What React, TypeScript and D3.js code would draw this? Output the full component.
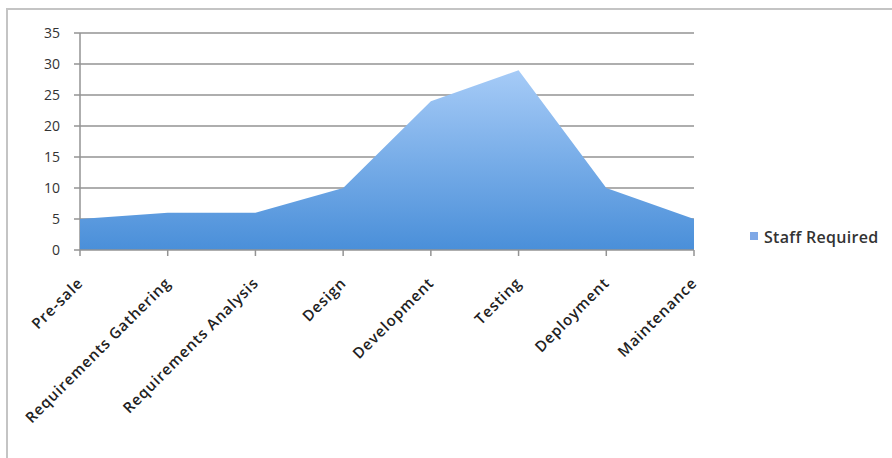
import React from "react";
import * as d3 from "d3";

const categories = [
  "Pre-sale",
  "Requirements Gathering",
  "Requirements Analysis",
  "Design",
  "Development",
  "Testing",
  "Deployment",
  "Maintenance",
];
const staffRequired = [5, 6, 6, 10, 24, 29, 10, 5];
const yTicks = [0, 5, 10, 15, 20, 25, 30, 35];
const seriesName = "Staff Required";

const W = 892;
const H = 458;
const M = { left: 80, right: 198, top: 33, bottom: 208 };

export default function App() {
  const x = d3
    .scalePoint<string>()
    .domain(categories)
    .range([M.left, W - M.right])
    .padding(0);
  const y = d3.scaleLinear().domain([0, 35]).range([H - M.bottom, M.top]);

  const data = categories.map((c, i) => ({ c, v: staffRequired[i] }));
  const area = d3
    .area<{ c: string; v: number }>()
    .x((d) => x(d.c)!)
    .y0(y(0))
    .y1((d) => y(d.v));

  const font = "'Open Sans', 'Liberation Sans', sans-serif";
  return (
    <svg
      width={W}
      height={H}
      style={{ position: "absolute", left: 0, top: 0, background: "#fff" }}
    >
      <defs>
        <linearGradient
          id="areaGrad"
          gradientUnits="userSpaceOnUse"
          x1={0}
          x2={0}
          y1={y(d3.max(staffRequired)!)}
          y2={y(0)}
        >
          <stop offset="0%" stopColor="#a6cbf7" />
          <stop offset="100%" stopColor="#4a8fd9" />
        </linearGradient>
      </defs>
      <rect
        x={7}
        y={9}
        width={W + 10}
        height={H + 10}
        fill="none"
        stroke="#c4c4c4"
        strokeWidth={2}
      />
      {yTicks.map((t) => (
        <g key={t}>
          <line
            x1={M.left - 6}
            x2={t === 0 ? M.left : W - M.right}
            y1={y(t)}
            y2={y(t)}
            stroke="#939393"
            strokeWidth={1.5}
          />
          <text
            x={M.left - 20}
            y={y(t)}
            dy="0.35em"
            textAnchor="end"
            fontFamily={font}
            fontSize={14}
            fill="#333"
          >
            {t}
          </text>
        </g>
      ))}
      <line
        x1={M.left}
        x2={M.left}
        y1={y(35)}
        y2={y(0)}
        stroke="#939393"
        strokeWidth={1.5}
      />
      <path d={area(data)!} fill="url(#areaGrad)" />
      <line
        x1={M.left}
        x2={W - M.right}
        y1={y(0)}
        y2={y(0)}
        stroke="#939393"
        strokeWidth={1.5}
      />
      {categories.map((c) => (
        <g key={c}>
          <line
            x1={x(c)}
            x2={x(c)}
            y1={y(0)}
            y2={y(0) + 6}
            stroke="#939393"
            strokeWidth={1.5}
          />
          <text
            transform={`translate(${x(c)! + 4},${y(0) + 34}) rotate(-45)`}
            textAnchor="end"
            fontFamily={font}
            fontSize={15}
            fontWeight={600}
            letterSpacing={0.9}
            fill="#222"
          >
            {c}
          </text>
        </g>
      ))}
      <rect x={750} y={232} width={8} height={8} fill="#7fa8e6" />
      <text
        x={764}
        y={241}
        dy="0.15em"
        fontFamily={font}
        fontSize={16}
        fontWeight={600}
        letterSpacing={0.3}
        fill="#333"
      >
        {seriesName}
      </text>
    </svg>
  );
}
